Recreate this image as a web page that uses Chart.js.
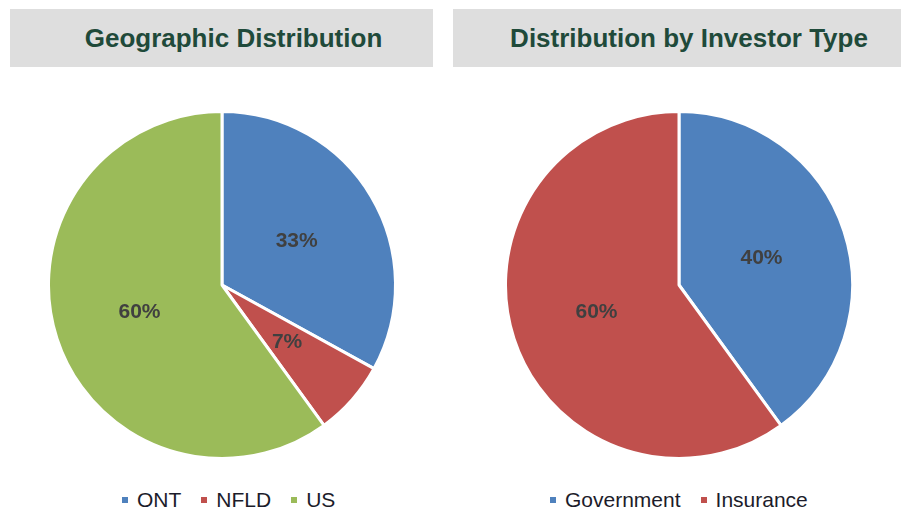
<!DOCTYPE html>
<html>
<head>
<meta charset="utf-8">
<script src="https://cdn.jsdelivr.net/npm/chart.js@4.4.1/dist/chart.umd.min.js"></script>
<style>
  body { margin: 0; background: #fff; width: 901px; height: 516px; position: relative; overflow: hidden; font-family: "Liberation Sans", Arial, sans-serif; }
  .head { position: absolute; top: 9px; height: 58px; box-sizing: border-box; padding-left: 24px; background: #dedede; color: #1f4a3a; font-weight: bold; font-size: 26px; line-height: 58px; text-align: center; }
  .box { position: absolute; top: 110px; height: 350px; width: 444px; }
  .legend { position: absolute; top: 488px; height: 24px; display: flex; align-items: center; font-size: 21px; color: #1c1c2a; white-space: nowrap; }
  .legend span.sq { display: inline-block; width: 6px; height: 6px; margin-right: 9px; }
  .legend span.txt { margin-right: 20px; }
</style>
</head>
<body>
<div class="head" style="left:10px; width:423px;">Geographic Distribution</div>
<div class="head" style="left:453px; width:448px;">Distribution by Investor Type</div>
<div class="box" style="left:0px;"><canvas id="geo"></canvas></div>
<div class="box" style="left:457px;"><canvas id="inv"></canvas></div>
<div class="legend" id="geoLegend" style="left:122px;"></div>
<div class="legend" id="invLegend" style="left:550px;"></div>
<script>
var geoLabels = ['ONT', 'NFLD', 'US']
var geoValues = [33, 7, 60]
var invLabels = ['Government', 'Insurance']
var invValues = [40, 60]
var colours = ['#4f81bd', '#c0504d', '#9bbb59']

// percent labels in the middle of each slice
var sliceLabels = {
  id: 'sliceLabels',
  afterDatasetsDraw: function(chart) {
    var ctx = chart.ctx
    var ds = chart.data.datasets[0]
    ctx.save()
    ctx.font = 'bold 21px "Liberation Sans", Arial, sans-serif'
    ctx.fillStyle = '#404040'
    ctx.textAlign = 'center'
    ctx.textBaseline = 'middle'
    chart.getDatasetMeta(0).data.forEach(function(arc, i) {
      var p = arc.tooltipPosition()
      ctx.fillText(ds.data[i] + '%', p.x, p.y)
    })
    ctx.restore()
  }
}

function makePie(id, labels, values) {
  var chart = new Chart(document.getElementById(id), {
    type: 'pie',
    data: {
      labels: labels,
      datasets: [{
        data: values,
        backgroundColor: colours.slice(0, values.length),
        borderColor: '#ffffff',
        borderWidth: 3
      }]
    },
    options: {
      responsive: true,
      maintainAspectRatio: false,
      animation: false,
      plugins: {
        tooltip: { enabled: false },
        legend: { display: false }
      }
    },
    plugins: [sliceLabels]
  })
  // legend built from the chart's own labels and colours
  var leg = document.getElementById(id + 'Legend')
  chart.data.labels.forEach(function(lab, i) {
    var sq = document.createElement('span')
    sq.className = 'sq'
    sq.style.background = chart.data.datasets[0].backgroundColor[i]
    var txt = document.createElement('span')
    txt.className = 'txt'
    txt.textContent = lab
    leg.appendChild(sq)
    leg.appendChild(txt)
  })
  return chart
}

var geoChart = makePie('geo', geoLabels, geoValues)
var invChart = makePie('inv', invLabels, invValues)
</script>
</body>
</html>
